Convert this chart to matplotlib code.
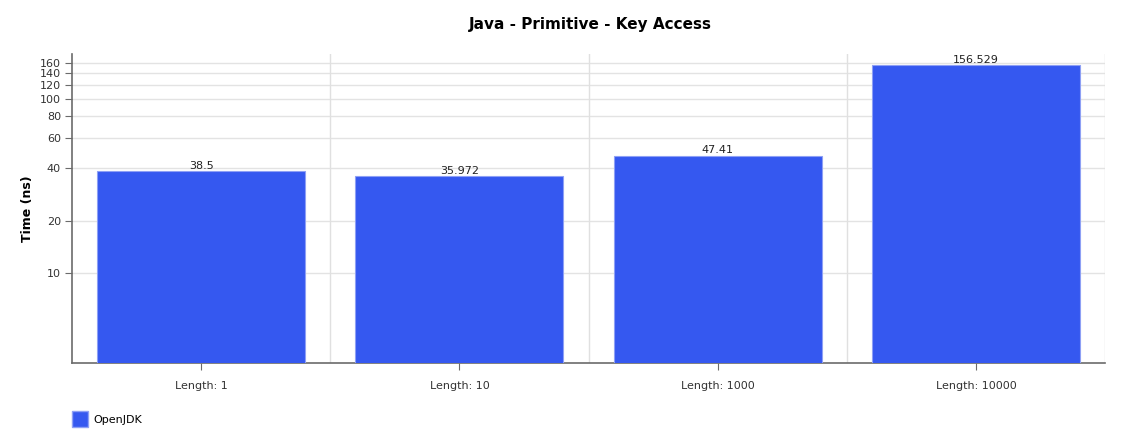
import matplotlib.pyplot as plt
from matplotlib.patches import Patch

categories = ['Length: 1', 'Length: 10', 'Length: 1000', 'Length: 10000']
openjdk = [38.5, 35.972, 47.41, 156.529]
value_labels = ['38.5', '35.972', '47.41', '156.529']
yticks = [10, 20, 40, 60, 80, 100, 120, 140, 160]

plt.rcParams['font.family'] = 'DejaVu Sans'

fig = plt.figure(figsize=(11.26, 4.47), dpi=100)
ax = fig.add_axes([72 / 1126, 1 - 362.7 / 447, (1105 - 72) / 1126, (362.7 - 54) / 447])

x = list(range(len(categories)))
bars = ax.bar(x, openjdk, width=0.805, color='#3558f0', edgecolor='#8ea0f5',
              linewidth=0.8, zorder=3)

ax.set_yscale('log')
ax.set_ylim(3.08, 181)
ax.set_xlim(-0.5, len(categories) - 0.5)

ax.set_yticks(yticks)
ax.set_yticklabels([str(t) for t in yticks])
ax.minorticks_off()
ax.set_xticks(x)
ax.set_xticklabels(categories)

# grid: horizontal at ticks, vertical between categories
for t in yticks:
    ax.axhline(t, color='#e3e3e3', linewidth=1, zorder=1)
for b in [0.5, 1.5, 2.5, 3.5]:
    ax.axvline(b, color='#e0e0e0', linewidth=1, zorder=1)

for xi, v, lab in zip(x, openjdk, value_labels):
    ax.text(xi, v * 1.005, lab, ha='center', va='bottom', fontsize=8,
            color='#222222', zorder=4)

for s in ['top', 'right']:
    ax.spines[s].set_visible(False)
for s in ['left', 'bottom']:
    ax.spines[s].set_color('#6b6b6b')
    ax.spines[s].set_linewidth(1.2)

ax.tick_params(axis='y', length=5, color='#6b6b6b', labelsize=8, labelcolor='#333333', pad=3)
ax.tick_params(axis='x', length=5, color='#6b6b6b', labelsize=8, labelcolor='#333333', pad=8)

ax.set_ylabel('Time (ns)', fontsize=9, fontweight='bold', labelpad=4)

fig.text(0.524, 1 - 25 / 447, 'Java - Primitive - Key Access', ha='center', va='center',
         fontsize=11, fontweight='bold')

fig.legend(handles=[Patch(facecolor='#3558f0', edgecolor='#8ea0f5', label='OpenJDK')],
           loc='center left', bbox_to_anchor=(62 / 1126, 1 - 419 / 447), frameon=False,
           fontsize=8, handlelength=1.45, handleheight=1.95, handletextpad=0.5)

fig.savefig('out.png', dpi=100)
